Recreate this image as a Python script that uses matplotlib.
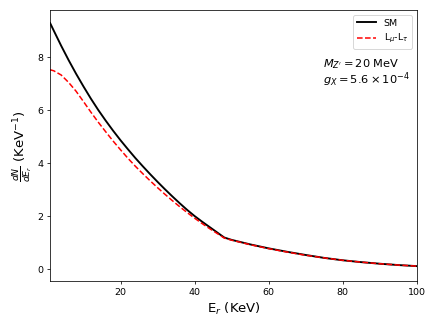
import numpy as np
import matplotlib
matplotlib.use("Agg")
import matplotlib.pyplot as plt

# recoil energy (KeV) and event rates
e_r = [1, 2, 4, 6, 8, 10, 12, 14, 16, 18, 20, 22, 24, 26, 28, 30, 32, 34, 36,
       38, 40, 42, 44, 46, 48, 50, 55, 60, 65, 70, 75, 80, 85, 90, 95, 100]
rate_sm = [9.29, 9.00, 8.43, 7.89, 7.38, 6.90, 6.44, 6.01, 5.61, 5.23, 4.87,
           4.53, 4.20, 3.89, 3.59, 3.30, 3.02, 2.75, 2.49, 2.24, 2.01, 1.80,
           1.60, 1.40, 1.20, 1.11, 0.94, 0.79, 0.66, 0.54, 0.43, 0.34, 0.27,
           0.21, 0.16, 0.12]
rate_lmt = [7.53, 7.49, 7.33, 7.05, 6.72, 6.33, 5.93, 5.55, 5.19, 4.84, 4.51,
            4.19, 3.89, 3.61, 3.34, 3.08, 2.83, 2.59, 2.36, 2.14, 1.93, 1.73,
            1.54, 1.36, 1.18, 1.10, 0.93, 0.78, 0.65, 0.53, 0.43, 0.34, 0.27,
            0.21, 0.16, 0.12]

fig, ax = plt.subplots(figsize=(6.4, 4.8), dpi=68.125)
fig.subplots_adjust(left=0.115, right=0.956, bottom=0.14, top=0.969)

ax.plot(e_r, rate_sm, color='black', linewidth=2, label='SM')
ax.plot(e_r, rate_lmt, color='red', linestyle='--', linewidth=1.6,
        label=r'L$_\mu$-L$_\tau$')

ax.set_xlim(1, 100)
ax.set_ylim(-0.45, 9.78)
ax.set_xlabel(r'E$_r$ (KeV)', fontsize=14)
ax.set_ylabel(r'$\frac{dN}{dE_r}$ (KeV$^{-1}$)', fontsize=14)

# model parameters, one text block
ax.text(0.745, 0.768, "$M_{Z'} = 20$ MeV\n$g_X = 5.6\\times10^{-4}$",
        transform=ax.transAxes, fontsize=12, va='center', linespacing=0.95)

ax.legend(loc='upper right')

fig.savefig('out.png', dpi=68.125)
